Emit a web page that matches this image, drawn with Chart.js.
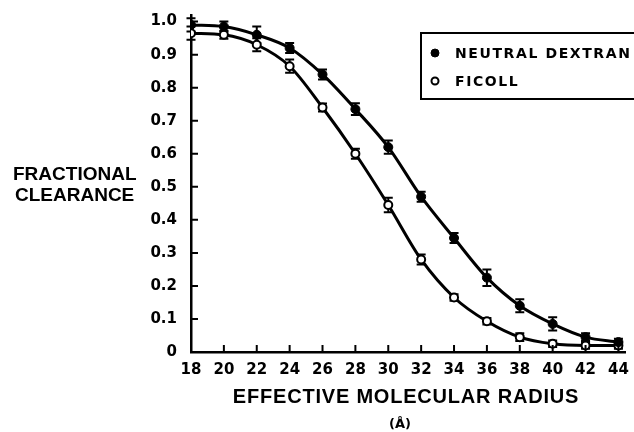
<!DOCTYPE html>
<html><head><meta charset="utf-8">
<script src="https://cdn.jsdelivr.net/npm/chart.js@4/dist/chart.umd.min.js"></script>
<style>html,body{margin:0;padding:0;background:#fff;overflow:hidden;}#wrap{width:634px;height:432px;position:relative;overflow:hidden;}</style>
</head><body><div id="wrap"><canvas id="c" width="634" height="432"></canvas></div>
<script>
const radii = [18, 20, 22, 24, 26, 28, 30, 32, 34, 36, 38, 40, 42, 44];
const dextran = [0.99, 0.985, 0.96, 0.92, 0.84, 0.735, 0.62, 0.47, 0.345, 0.225, 0.14, 0.085, 0.045, 0.03];
const ficoll = [0.965, 0.96, 0.93, 0.865, 0.74, 0.60, 0.445, 0.28, 0.165, 0.093, 0.045, 0.025, 0.02, 0.02];
const dextranErr = [0.02, 0.015, 0.025, 0.015, 0.015, 0.018, 0.02, 0.015, 0.015, 0.025, 0.02, 0.02, 0.012, 0.01];
const ficollErr = [0.02, 0.012, 0.02, 0.02, 0.012, 0.015, 0.022, 0.015, 0.01, 0.01, 0.012, 0.01, 0.01, 0.01];
const xTicks = [18, 20, 22, 24, 26, 28, 30, 32, 34, 36, 38, 40, 42, 44];
const yTicks = [0, 0.1, 0.2, 0.3, 0.4, 0.5, 0.6, 0.7, 0.8, 0.9, 1.0];
const seriesLabels = ['NEUTRAL DEXTRAN', 'FICOLL'];
const yTitleLines = ['FRACTIONAL', 'CLEARANCE'];
const xTitle = 'EFFECTIVE MOLECULAR RADIUS';
const xUnit = '(Å)';

const errs = [dextranErr, ficollErr];

const decor = {
  id: 'decor',
  beforeDatasetsDraw(chart) {
    const ctx = chart.ctx, xs = chart.scales.x, ys = chart.scales.y;
    ctx.save();
    ctx.strokeStyle = '#000';
    ctx.lineWidth = 2;
    chart.data.datasets.forEach((ds, di) => {
      ds.data.forEach((p, i) => {
        const e = errs[di][i];
        const px = xs.getPixelForValue(p.x);
        const y1 = ys.getPixelForValue(p.y + e), y2 = ys.getPixelForValue(p.y - e);
        ctx.beginPath();
        ctx.moveTo(px, y1); ctx.lineTo(px, y2);
        ctx.moveTo(px - 4.5, y1); ctx.lineTo(px + 4.5, y1);
        ctx.moveTo(px - 4.5, y2); ctx.lineTo(px + 4.5, y2);
        ctx.stroke();
      });
    });
    ctx.restore();
  },
  afterDraw(chart) {
    const ctx = chart.ctx, xs = chart.scales.x, ys = chart.scales.y;
    const a = chart.chartArea;
    ctx.save();
    ctx.strokeStyle = '#000';
    ctx.lineWidth = 2;
    ctx.beginPath();
    ys.ticks.forEach(t => {
      if (t.value === 0) return;
      const y = ys.getPixelForValue(t.value);
      ctx.moveTo(a.left, y); ctx.lineTo(a.left + 7, y);
    });
    xs.ticks.forEach(t => {
      if (t.value === 18) return;
      const x = xs.getPixelForValue(t.value);
      ctx.moveTo(x, a.bottom); ctx.lineTo(x, a.bottom - 7);
    });
    ctx.stroke();

    ctx.fillStyle = '#000';
    ctx.textBaseline = 'middle';
    ctx.textAlign = 'left';
    ctx.font = 'bold 19px "Liberation Sans"';
    ctx.fillText(yTitleLines[0], 13, 175);
    ctx.fillText(yTitleLines[1], 15, 196);

    ctx.textAlign = 'center';
    ctx.font = 'bold 20px "Liberation Sans"';
    ctx.letterSpacing = '0.8px';
    ctx.fillText(xTitle, 406, 397);
    ctx.letterSpacing = '0px';
    ctx.font = 'bold 13px "DejaVu Sans"';
    ctx.fillText(xUnit, 400, 425);

    // legend box (open on the right, as in the source figure)
    ctx.lineWidth = 2;
    ctx.beginPath();
    ctx.moveTo(634, 33); ctx.lineTo(421, 33); ctx.lineTo(421, 99); ctx.lineTo(634, 99);
    ctx.stroke();
    const ds = chart.data.datasets;
    const ly = [53, 81];
    ds.forEach((d, i) => {
      ctx.beginPath();
      ctx.arc(435, ly[i], i === 0 ? 4 : 3.5, 0, Math.PI * 2);
      ctx.fillStyle = d.pointBackgroundColor;
      ctx.fill();
      ctx.lineWidth = i === 0 ? 1 : 2;
      ctx.strokeStyle = '#000';
      ctx.stroke();
      ctx.fillStyle = '#000';
      ctx.textAlign = 'left';
      ctx.font = 'bold 14px "DejaVu Sans"';
      ctx.letterSpacing = '1.6px';
      ctx.fillText(d.label, 455, ly[i] + 1);
      ctx.letterSpacing = '0px';
    });
    ctx.restore();
  }
};

new Chart(document.getElementById('c'), {
  type: 'line',
  data: {
    datasets: [
      {
        label: seriesLabels[0],
        data: radii.map((r, i) => ({x: r, y: dextran[i]})),
        borderColor: '#000', borderWidth: 3,
        pointRadius: 4.5, pointBackgroundColor: '#000', pointBorderColor: '#000', pointBorderWidth: 1,
        cubicInterpolationMode: 'monotone', fill: false
      },
      {
        label: seriesLabels[1],
        data: radii.map((r, i) => ({x: r, y: ficoll[i]})),
        borderColor: '#000', borderWidth: 3,
        pointRadius: 4, pointBackgroundColor: '#fff', pointBorderColor: '#000', pointBorderWidth: 2,
        cubicInterpolationMode: 'monotone', fill: false
      }
    ]
  },
  options: {
    responsive: false, animation: false, devicePixelRatio: 1,
    layout: {padding: {top: 13, right: 9, left: 0, bottom: 0}},
    plugins: {legend: {display: false}, tooltip: {enabled: false}},
    scales: {
      x: {
        type: 'linear', min: 18, max: 44.4,
        afterBuildTicks: s => { s.ticks = xTicks.map(v => ({value: v})); },
        afterFit: s => { s.height = 80; },
        grid: {display: false},
        border: {display: true, color: '#000', width: 2.5},
        ticks: {padding: 1, color: '#000', font: {family: 'DejaVu Sans', weight: 'bold', size: 15}, maxRotation: 0, autoSkip: false}
      },
      y: {
        type: 'linear', min: 0, max: 1.02,
        afterBuildTicks: s => { s.ticks = yTicks.map(v => ({value: v})); },
        afterFit: s => { s.width = 191; },
        grid: {display: false},
        border: {display: true, color: '#000', width: 2.5},
        ticks: {padding: 6, color: '#000', font: {family: 'DejaVu Sans', weight: 'bold', size: 15},
          callback: v => v === 0 ? '0' : v.toFixed(1)}
      }
    }
  },
  plugins: [decor]
});
</script></body></html>
